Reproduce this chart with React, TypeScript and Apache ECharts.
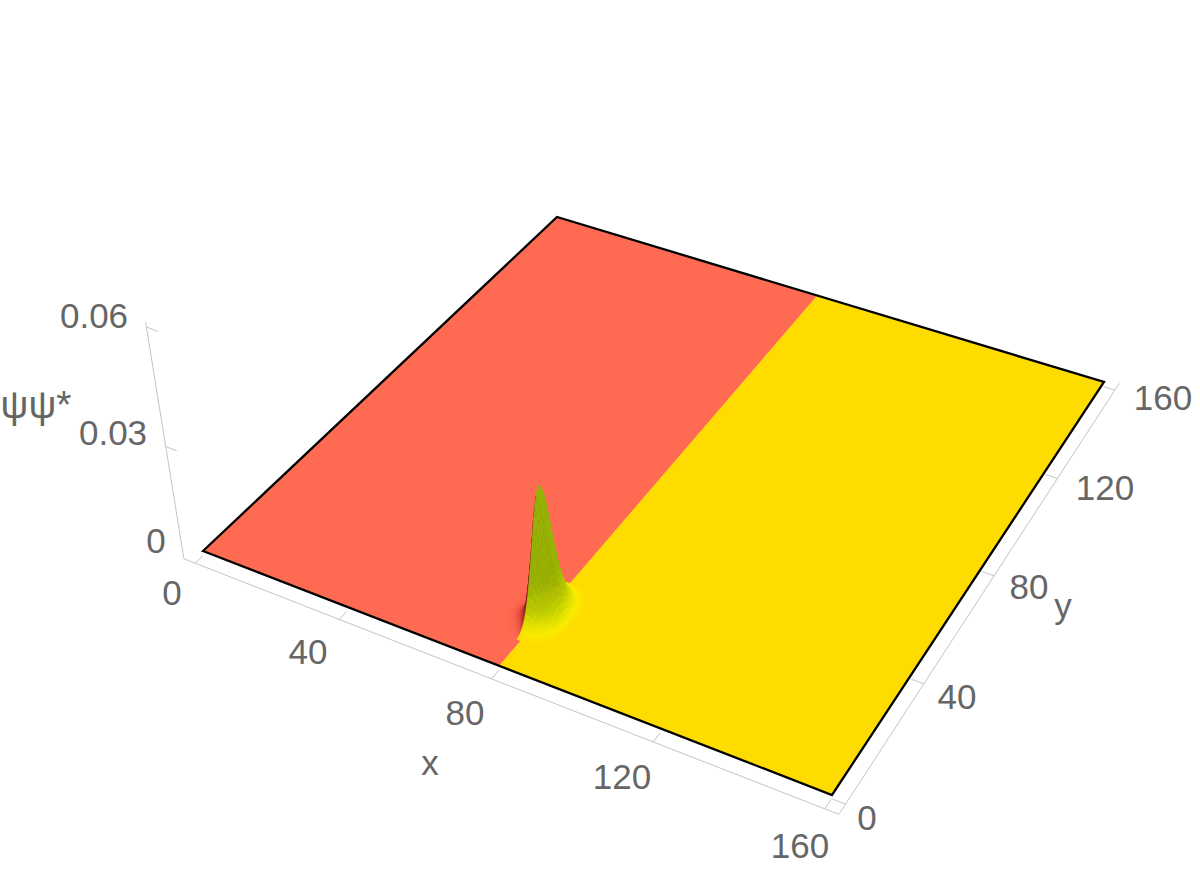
import React, { useEffect, useRef } from "react";
import * as echarts from "echarts";

// ---- data ----
const xTicks = [0, 40, 80, 120, 160];
const yTicks = [0, 40, 80, 120, 160];
const zTicks = [0.03, 0.06];
const xLabels = ["0", "40", "80", "120", "160"];
const yLabels = ["0", "40", "80", "120", "160"];
const zLabels = ["0", "0.03", "0.06"];
const regionEdges = [0, 80, 160];
const peakHeight = 0.0372;
const profileStep = 0.5;
const profileXStart = 72;
const profileX = [0, 0.002, 0.004, 0.007, 0.011, 0.017, 0.025, 0.037, 0.055, 0.08, 0.12, 0.19, 0.32, 0.62, 0.93, 1, 0.97, 0.9, 0.8, 0.69, 0.58, 0.47, 0.37, 0.28, 0.21, 0.15, 0.09, 0.055, 0.03, 0.015, 0.006, 0.002, 0];
const profileYStart = 9;
const profileY = [0, 0.004, 0.01, 0.02, 0.035, 0.055, 0.085, 0.125, 0.18, 0.25, 0.34, 0.45, 0.57, 0.7, 0.83, 0.93, 1, 1, 0.98, 0.95, 0.91, 0.86, 0.8, 0.74, 0.68, 0.62, 0.56, 0.5, 0.44, 0.38, 0.33, 0.28, 0.235, 0.19, 0.155, 0.12, 0.095, 0.07, 0.05, 0.035, 0.022, 0.012, 0.005, 0];

// ---- layout and style ----
const RED = "#FF6B52";
const YELLOW = "#FFDC00";
const corners = [[203, 551], [832, 795], [1104, 382], [557, 217]];
const VP = [530, 2700];
const K = 1.6;
const PAD = 3.2;
const ZPAD = 0.0012;
const FONT = "'Liberation Sans', Arial, sans-serif";
const xLabelPos = [[172, 592], [308, 651], [465, 712], [622, 776], [800, 845]];
const yLabelPos = [[867, 817], [957, 696], [1029, 586], [1105, 487], [1163, 397]];
const zLabelPos = [[156, 540], [113, 432], [94, 315]];
const greenStops: [number, number[]][] = [[0, [255, 220, 0]], [0.02, [250, 236, 0]], [0.06, [228, 228, 0]], [0.15, [188, 204, 0]], [0.35, [152, 180, 4]], [1, [150, 178, 10]]];
const redStops: [number, number[]][] = [[0, [255, 107, 82]], [0.02, [238, 88, 70]], [0.06, [195, 54, 44]], [0.15, [135, 30, 24]], [1, [90, 18, 12]]];

function solveH(q: number[][]) {
  const [[x0, y0], [x1, y1], [x2, y2], [x3, y3]] = q;
  const dx1 = x1 - x2, dx2 = x3 - x2, sx = x0 - x1 + x2 - x3;
  const dy1 = y1 - y2, dy2 = y3 - y2, sy = y0 - y1 + y2 - y3;
  const den = dx1 * dy2 - dx2 * dy1;
  const g = (sx * dy2 - dx2 * sy) / den;
  const h = (dx1 * sy - sx * dy1) / den;
  return [x1 - x0 + g * x1, x3 - x0 + h * x3, x0, y1 - y0 + g * y1, y3 - y0 + h * y3, y0, g, h];
}
const H = solveH(corners);
function project(x: number, y: number, z = 0): number[] {
  const u = x / 160, v = y / 160;
  const w = H[6] * u + H[7] * v + 1;
  const bx = (H[0] * u + H[1] * v + H[2]) / w;
  const by = (H[3] * u + H[4] * v + H[5]) / w;
  const r = 1 / (1 - z * K);
  return [VP[0] + (bx - VP[0]) * r, VP[1] + (by - VP[1]) * r];
}
function ramp(stops: [number, number[]][], t: number) {
  for (let i = 1; i < stops.length; i++) {
    if (t <= stops[i][0]) {
      const a = stops[i - 1], b = stops[i];
      const f = (t - a[0]) / (b[0] - a[0]);
      return `rgb(${a[1].map((c, k) => Math.round(c + (b[1][k] - c) * f)).join(",")})`;
    }
  }
  return `rgb(${stops[stops.length - 1][1].join(",")})`;
}
function height(i: number, j: number) {
  return peakHeight * profileX[i] * profileY[j];
}

// box segments: [x0,y0,z0,x1,y1,z1]
const LOW = -PAD, HIGH = 160 + PAD, ZB = -ZPAD;
const boxSegments: number[][] = [
  [LOW, LOW, ZB, HIGH, LOW, ZB],
  [HIGH, LOW, ZB, HIGH, HIGH, ZB],
  [LOW, LOW, ZB, LOW, LOW, 0.0612],
];
xTicks.forEach((t) => boxSegments.push([t, LOW, ZB, t, LOW + 3, ZB]));
yTicks.forEach((t) => boxSegments.push([HIGH, t, ZB, HIGH - 3, t, ZB]));
zTicks.forEach((t) => boxSegments.push([LOW, LOW, t, LOW + 3, LOW, t]));

const cells: number[][] = [];
for (let j = profileY.length - 2; j >= 0; j--) {
  for (let i = 0; i < profileX.length - 1; i++) {
    const zs = [height(i, j), height(i + 1, j), height(i + 1, j + 1), height(i, j + 1)];
    const top = Math.max(...zs);
    if (top <= 1e-6) continue;
    cells.push([i, j, zs[0], zs[1], zs[2], zs[3]]);
  }
}

const texts: { t: string; p: number[]; s?: number }[] = [
  ...xLabels.map((t, i) => ({ t, p: xLabelPos[i] })),
  ...yLabels.map((t, i) => ({ t, p: yLabelPos[i] })),
  ...zLabels.map((t, i) => ({ t, p: zLabelPos[i] })),
  { t: "x", p: [430, 762] },
  { t: "y", p: [1063, 605] },
  { t: "ψψ*", p: [36, 404], s: 39 },
];

export default function App() {
  const ref = useRef<HTMLDivElement>(null);
  useEffect(() => {
    document.body.style.margin = "0";
    const chart = echarts.init(ref.current!, undefined, { renderer: "svg" });
    const poly = (api: any, pts: number[][], fill: string, stroke?: string, lw = 0.5) => ({
      type: "polygon",
      shape: { points: pts.map((p) => api.coord(p)) },
      style: { fill, stroke: stroke || fill, lineWidth: lw },
      silent: true,
    });
    chart.setOption({
      animation: false,
      backgroundColor: "#fff",
      grid: { left: 0, right: 0, top: 0, bottom: 0 },
      xAxis: { type: "value", min: 0, max: 1200, show: false },
      yAxis: { type: "value", min: 0, max: 874, inverse: true, show: false },
      series: [
        {
          type: "custom",
          coordinateSystem: "cartesian2d",
          clip: false,
          data: boxSegments,
          renderItem: (_: any, api: any) => {
            const a = project(api.value(0), api.value(1), api.value(2));
            const b = project(api.value(3), api.value(4), api.value(5));
            const p = api.coord(a), q = api.coord(b);
            return { type: "line", shape: { x1: p[0], y1: p[1], x2: q[0], y2: q[1] }, style: { stroke: "#c4c4c4", lineWidth: 1, fill: "none" } };
          },
        },
        {
          type: "custom",
          coordinateSystem: "cartesian2d",
          clip: false,
          data: [0, 1].map((i) => [regionEdges[i], regionEdges[i + 1], i]),
          renderItem: (_: any, api: any) => {
            const x0 = api.value(0), x1 = api.value(1);
            return poly(api, [project(x0, 0), project(x1, 0), project(x1, 160), project(x0, 160)], api.value(2) === 0 ? RED : YELLOW);
          },
        },
        {
          type: "custom",
          coordinateSystem: "cartesian2d",
          clip: false,
          data: cells,
          renderItem: (_: any, api: any) => {
            const i = api.value(0), j = api.value(1);
            const x0 = profileXStart + i * profileStep, y0 = profileYStart + j * profileStep;
            const x1 = x0 + profileStep, y1 = y0 + profileStep;
            const zs = [api.value(2), api.value(3), api.value(4), api.value(5)];
            const t = (zs[0] + zs[1] + zs[2] + zs[3]) / 4 / peakHeight;
            const fill = ramp(x0 < 79 ? redStops : greenStops, Math.min(1, t));
            return poly(api, [project(x0, y0, zs[0]), project(x1, y0, zs[1]), project(x1, y1, zs[2]), project(x0, y1, zs[3])], fill);
          },
        },
        {
          type: "custom",
          coordinateSystem: "cartesian2d",
          clip: false,
          data: [[0, 160]],
          renderItem: (_: any, api: any) => ({
            type: "polygon",
            shape: { points: [project(0, 0), project(160, 0), project(160, 160), project(0, 160)].map((p) => api.coord(p)) },
            style: { fill: "none", stroke: "#000", lineWidth: 2.3 },
          }),
        },
        {
          type: "custom",
          coordinateSystem: "cartesian2d",
          clip: false,
          data: texts.map((_, i) => [i]),
          renderItem: (_: any, api: any) => {
            const item = texts[api.value(0)];
            const p = api.coord(item.p);
            return {
              type: "text",
              x: p[0],
              y: p[1],
              style: { text: item.t, fontSize: item.s || 35, fontFamily: FONT, fill: "#666666", align: "center", verticalAlign: "middle" },
            };
          },
        },
      ],
    });
    return () => chart.dispose();
  }, []);
  return <div ref={ref} style={{ position: "absolute", left: 0, top: 0, width: 1200, height: 874 }} />;
}
